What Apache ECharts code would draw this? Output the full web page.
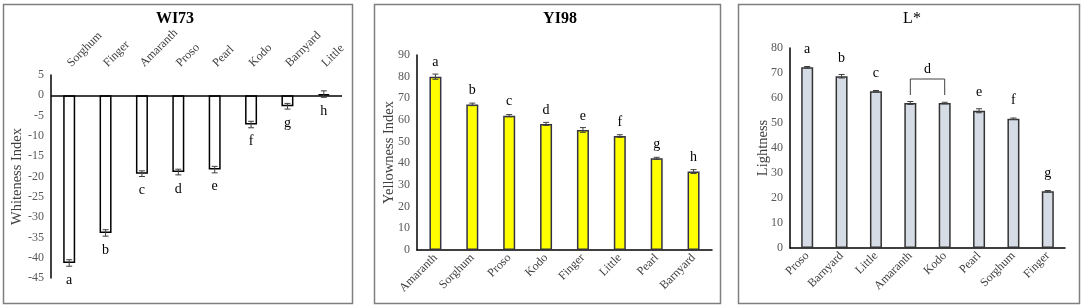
<!DOCTYPE html>
<html>
<head>
<meta charset="utf-8">
<script src="https://cdn.jsdelivr.net/npm/echarts@6/dist/echarts.min.js"></script>
<style>
  html, body { margin: 0; padding: 0; background: #fff; }
  #main { width: 1084px; height: 308px; }
</style>
</head>
<body>
<div id="main"></div>
<script>
// WI73
var wiNames = ['Sorghum', 'Finger', 'Amaranth', 'Proso', 'Pearl', 'Kodo', 'Barnyard', 'Little'];
var wiValues = [-41.3, -33.9, -19.3, -18.9, -18.3, -7.2, -2.7, 0.3];
var wiErrors = [0.8, 0.8, 0.7, 0.7, 0.8, 0.8, 0.7, 0.8];
var wiLetters = ['a', 'b', 'c', 'd', 'e', 'f', 'g', 'h'];
// YI98
var yiNames = ['Amaranth', 'Sorghum', 'Proso', 'Kodo', 'Finger', 'Little', 'Pearl', 'Barnyard'];
var yiValues = [80.0, 67.2, 62.0, 58.2, 55.4, 52.6, 42.3, 36.2];
var yiErrors = [1.2, 0.6, 0.5, 0.7, 1.1, 0.6, 0.5, 0.9];
var yiLetters = ['a', 'b', 'c', 'd', 'e', 'f', 'g', 'h'];
// L*
var lNames = ['Proso', 'Barnyard', 'Little', 'Amaranth', 'Kodo', 'Pearl', 'Sorghum', 'Finger'];
var lValues = [72.3, 68.7, 62.7, 58.0, 58.0, 54.9, 51.7, 22.7];
var lErrors = [0.3, 0.7, 0.3, 0.6, 0.3, 0.8, 0.3, 0.3];
var lLetters = ['a', 'b', 'c', '', '', 'e', 'f', 'g'];
var lBracket = [3, 4, 'd'];   // Amaranth and Kodo share "d"

var serif = 'Liberation Serif';
var chart = echarts.init(document.getElementById('main'));

// error bars + significance letters, gap = px from bar end to letter centre
function errorSeries(idx, values, errors, letters, below, gap) {
  return {
    type: 'custom', xAxisIndex: idx, yAxisIndex: idx, z: 5, silent: true,
    data: values.map(function (v, i) { return [i, v, errors[i]]; }),
    renderItem: function (params, api) {
      var i = api.value(0), v = api.value(1), e = api.value(2);
      var hi = api.coord([i, v + e]), lo = api.coord([i, v - e]), end = api.coord([i, v]);
      var x = end[0], c = 3;
      var st = { stroke: '#404040', lineWidth: 1 };
      return {
        type: 'group',
        children: [
          { type: 'line', shape: { x1: x, y1: hi[1], x2: x, y2: lo[1] }, style: st },
          { type: 'line', shape: { x1: x - c, y1: hi[1], x2: x + c, y2: hi[1] }, style: st },
          { type: 'line', shape: { x1: x - c, y1: lo[1], x2: x + c, y2: lo[1] }, style: st },
          { type: 'text', x: x, y: below ? end[1] + gap : end[1] - gap,
            style: { text: letters[params.dataIndex], fontFamily: serif, fontSize: 14, fill: '#000',
                     align: 'center', verticalAlign: 'middle' } }
        ]
      };
    }
  };
}

function yAxis(idx, name, min, max, interval, gap) {
  return {
    type: 'value', gridIndex: idx, min: min, max: max, interval: interval,
    name: name, nameLocation: 'middle', nameGap: gap, nameMoveOverlap: false,
    nameTextStyle: { fontFamily: serif, fontSize: 14.5, color: '#404040' },
    axisLine: { show: true, lineStyle: { color: '#000', width: 1.5 } },
    axisTick: { show: false }, splitLine: { show: false },
    axisLabel: { fontFamily: serif, fontSize: 12, color: '#595959', margin: 7 }
  };
}

function xAxis(idx, names, pos, rotate, margin) {
  return {
    type: 'category', gridIndex: idx, data: names, position: pos,
    axisLine: { show: pos === 'bottom', onZero: false, lineStyle: { color: '#000', width: 1.5 } },
    axisTick: { show: false },
    axisLabel: { rotate: rotate, interval: 0, fontFamily: serif, fontSize: 12, color: '#404040', margin: margin }
  };
}

var border = { stroke: '#7f7f7f', lineWidth: 1.5, fill: 'none' };

chart.setOption({
  animation: false,
  title: [
    { text: 'WI73', left: 170, top: 6, textAlign: 'center',
      textStyle: { fontFamily: serif, fontSize: 16, fontWeight: 'bold', color: '#000' } },
    { text: 'YI98', left: 555, top: 6, textAlign: 'center',
      textStyle: { fontFamily: serif, fontSize: 16, fontWeight: 'bold', color: '#000' } },
    { text: 'L*', left: 907, top: 6, textAlign: 'center',
      textStyle: { fontFamily: serif, fontSize: 16, fontWeight: 'normal', color: '#000' } }
  ],
  graphic: [
    { type: 'rect', shape: { x: 3.5, y: 4.5, width: 349, height: 299 }, style: border, silent: true },
    { type: 'rect', shape: { x: 374.5, y: 4.5, width: 346, height: 299 }, style: border, silent: true },
    { type: 'rect', shape: { x: 738.5, y: 4.5, width: 341, height: 299 }, style: border, silent: true }
  ],
  grid: [
    { left: 51, top: 75, width: 291, height: 203 },
    { left: 417, top: 55, width: 295, height: 195 },
    { left: 790, top: 48, width: 275, height: 200 }
  ],
  xAxis: [
    xAxis(0, wiNames, 'top', -45, 10),
    xAxis(1, yiNames, 'bottom', 45, 6),
    xAxis(2, lNames, 'bottom', 45, 6)
  ],
  yAxis: [
    yAxis(0, 'Whiteness Index', -45, 5, 5, 26),
    yAxis(1, 'Yellowness Index', 0, 90, 10, 20),
    yAxis(2, 'Lightness', 0, 80, 10, 19)
  ],
  series: [
    { type: 'bar', xAxisIndex: 0, yAxisIndex: 0, data: wiValues, barWidth: 12,
      itemStyle: { color: '#fff', borderColor: '#000', borderWidth: 1.5 },
      markLine: { silent: true, symbol: 'none', label: { show: false },
        lineStyle: { color: '#000', width: 1.5, type: 'solid' }, data: [{ yAxis: 0 }] } },
    errorSeries(0, wiValues, wiErrors, wiLetters, true, 17),
    { type: 'bar', xAxisIndex: 1, yAxisIndex: 1, data: yiValues, barWidth: 12,
      itemStyle: { color: '#ffff00', borderColor: '#333344', borderWidth: 1.5 } },
    errorSeries(1, yiValues, yiErrors, yiLetters, false, 14),
    { type: 'bar', xAxisIndex: 2, yAxisIndex: 2, data: lValues, barWidth: 12,
      itemStyle: { color: '#d6dce5', borderColor: '#333333', borderWidth: 1.5 } },
    errorSeries(2, lValues, lErrors, lLetters, false, 18),
    { type: 'custom', xAxisIndex: 2, yAxisIndex: 2, z: 5, silent: true,
      data: [[lBracket[0], lBracket[1]]],
      renderItem: function (params, api) {
        var a = api.value(0), b = api.value(1);
        var pa = api.coord([a, lValues[a]]), pb = api.coord([b, lValues[b]]);
        var base = Math.min(pa[1], pb[1]);
        var st = { stroke: '#404040', lineWidth: 1, fill: 'none' };
        return {
          type: 'group',
          children: [
            { type: 'polyline', shape: { points: [[pa[0], base - 8], [pa[0], base - 24], [pb[0], base - 24], [pb[0], base - 8]] }, style: st },
            { type: 'text', x: (pa[0] + pb[0]) / 2, y: base - 34,
              style: { text: lBracket[2], fontFamily: serif, fontSize: 14, fill: '#000', align: 'center', verticalAlign: 'middle' } }
          ]
        };
      }
    }
  ]
});
</script>
</body>
</html>
